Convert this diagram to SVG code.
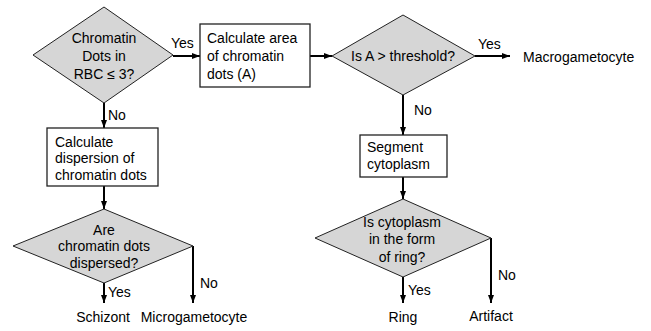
<svg xmlns="http://www.w3.org/2000/svg" width="651" height="331" viewBox="0 0 651 331">
<style>
text{font-family:"Liberation Sans",Arial,sans-serif;font-size:14px;fill:#000}
.c{text-anchor:middle}
.d{fill:#d6d6d6;stroke:#222;stroke-width:1}
.b{fill:#fff;stroke:#222;stroke-width:1.3}
.e{stroke:#000;stroke-width:2;fill:none;marker-end:url(#ah)}
</style>
<defs>
<marker id="ah" viewBox="0 0 8 6" refX="8" refY="3" markerWidth="8" markerHeight="6" markerUnits="userSpaceOnUse" orient="auto">
<path d="M0,0L8,3L0,6z" fill="#000"/>
</marker>
</defs>
<rect width="651" height="331" fill="#fff"/>
<g id="connectors">
<path class="e" d="M173,56H200"/>
<path class="e" d="M310,56H332"/>
<path class="e" d="M475,56H510"/>
<path class="e" d="M403,95V135"/>
<path class="e" d="M403,177V199"/>
<path class="e" d="M403,277V303"/>
<path class="e" d="M491,238V303"/>
<path class="e" d="M104,103V128"/>
<path class="e" d="M104,186V209"/>
<path class="e" d="M104,283V303"/>
<path class="e" d="M193,246V303"/>
<text x="171" y="48">Yes</text>
<text x="478" y="49">Yes</text>
<text x="108" y="120">No</text>
<text x="414" y="115">No</text>
<text x="108" y="297">Yes</text>
<text x="408" y="295">Yes</text>
<text x="200" y="288">No</text>
<text x="498" y="280">No</text>
</g>
<g id="d1">
<path class="d" d="M104,7L173,55L104,103L33,55z"/>
<text class="c" x="104" y="43">Chromatin</text>
<text class="c" x="104" y="61">Dots in</text>
<text class="c" x="104" y="79">RBC ≤ 3?</text>
</g>
<g id="b1">
<rect class="b" x="200" y="24" width="110" height="63"/>
<text x="207" y="43">Calculate area</text>
<text x="207" y="61">of chromatin</text>
<text x="207" y="79">dots (A)</text>
</g>
<g id="d2">
<path class="d" d="M403,15L475,56L403,95L332,56z"/>
<text class="c" x="403" y="61">Is A &gt; threshold?</text>
</g>
<g id="t1"><text x="523" y="62">Macrogametocyte</text></g>
<g id="b2">
<rect class="b" x="47" y="128" width="111" height="58"/>
<text x="55" y="147">Calculate</text>
<text x="55" y="163">dispersion of</text>
<text x="55" y="180">chromatin dots</text>
</g>
<g id="d4">
<path class="d" d="M104,209L193,246L104,283L13,246z"/>
<text class="c" x="104" y="235">Are</text>
<text class="c" x="104" y="251">chromatin dots</text>
<text class="c" x="104" y="268">dispersed?</text>
</g>
<g id="t2"><text class="c" x="103" y="322">Schizont</text></g>
<g id="t3"><text class="c" x="194" y="322">Microgametocyte</text></g>
<g id="b3">
<rect class="b" x="360" y="135" width="87" height="42"/>
<text x="367" y="152">Segment</text>
<text x="367" y="169">cytoplasm</text>
</g>
<g id="d3">
<path class="d" d="M403,199L491,238L403,277L315,238z"/>
<text class="c" x="402" y="227">Is cytoplasm</text>
<text class="c" x="402" y="244">in the form</text>
<text class="c" x="402" y="262">of ring?</text>
</g>
<g id="t4"><text class="c" x="403" y="322">Ring</text></g>
<g id="t5"><text class="c" x="491" y="321">Artifact</text></g>
</svg>
